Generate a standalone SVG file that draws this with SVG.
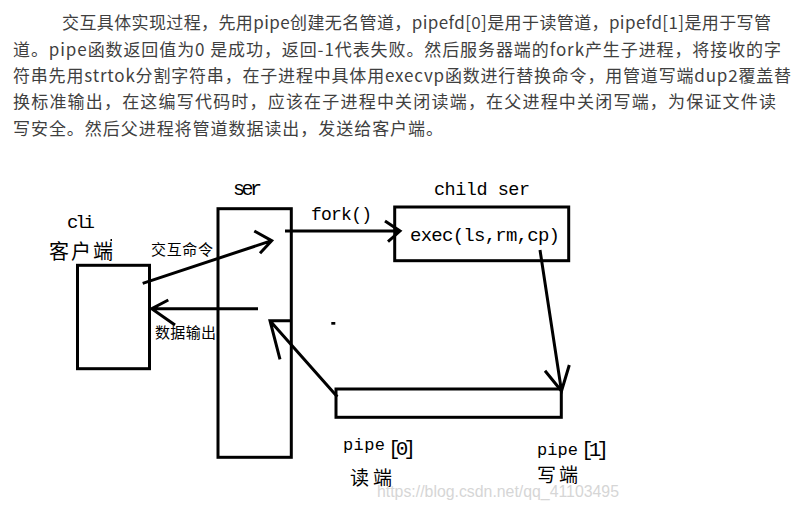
<svg xmlns="http://www.w3.org/2000/svg" width="804" height="526" viewBox="0 0 804 526">
<style>
.para{font-family:"Noto Sans CJK SC","Liberation Sans",sans-serif;font-size:17px;fill:#3f3f3f}
.box{fill:none;stroke:#000;stroke-width:3}
.conn{fill:none;stroke:#000;stroke-width:3;stroke-linejoin:miter}
.mono{font-family:"Liberation Mono","DejaVu Sans Mono",monospace;fill:#000}
.cjk{font-family:"Noto Sans CJK SC",sans-serif;fill:#000}
.wm{font-family:"Liberation Sans",Arial,sans-serif;font-size:16px;fill:#d6d6d6}
</style>
<rect x="0" y="0" width="804" height="526" fill="#fff"/>
<g id="paragraph">
<text class="para" x="62" y="29" textLength="709" lengthAdjust="spacing">交互具体实现过程，先用pipe创建无名管道，pipefd[0]是用于读管道，pipefd[1]是用于写管</text>
<text class="para" x="13" y="55.5" textLength="768" lengthAdjust="spacing">道。pipe函数返回值为0 是成功，返回-1代表失败。然后服务器端的fork产生子进程，将接收的字</text>
<text class="para" x="13" y="82" textLength="778" lengthAdjust="spacing">符串先用strtok分割字符串，在子进程中具体用execvp函数进行替换命令，用管道写端dup2覆盖替</text>
<text class="para" x="13" y="108" textLength="763" lengthAdjust="spacing">换标准输出，在这编写代码时，应该在子进程中关闭读端，在父进程中关闭写端，为保证文件读</text>
<text class="para" x="13" y="135" textLength="430" lengthAdjust="spacing">写安全。然后父进程将管道数据读出，发送给客户端。</text>
</g>
<g id="cli">
<rect class="box" x="77.5" y="265.3" width="72" height="103.4"/>
<text class="mono" x="67" y="228" font-size="19" textLength="28" lengthAdjust="spacing">cli</text>
<text class="cjk" x="49" y="259" font-size="20" textLength="64" lengthAdjust="spacing">客户端</text>
<rect x="110.5" y="239" width="1.5" height="2" fill="#000"/>
</g>
<g id="ser">
<rect class="box" x="218" y="208.7" width="73.3" height="248.6"/>
<text class="mono" x="233" y="195" font-size="20" textLength="29" lengthAdjust="spacing">ser</text>
</g>
<g id="child">
<rect class="box" x="394.7" y="207" width="174" height="53.7"/>
<text class="mono" x="434" y="195" font-size="18.5" textLength="96" lengthAdjust="spacing">child ser</text>
<text class="mono" x="410" y="240.7" font-size="19" textLength="150" lengthAdjust="spacing">exec(ls,rm,cp)</text>
</g>
<g id="pipe">
<rect class="box" x="336" y="389" width="225.3" height="28.3"/>
<text class="mono" x="343" y="450" font-size="17" textLength="42" lengthAdjust="spacing">pipe</text>
<text class="mono" x="388" y="455" font-size="21" textLength="28" lengthAdjust="spacing">[0]</text>
<text class="cjk" x="350" y="485" font-size="19" textLength="42" lengthAdjust="spacing">读端</text>
<text class="mono" x="537" y="455" font-size="17" textLength="41" lengthAdjust="spacing">pipe</text>
<text class="mono" x="581" y="456" font-size="21" textLength="28" lengthAdjust="spacing">[1]</text>
<text class="cjk" x="537" y="482" font-size="19" textLength="41" lengthAdjust="spacing">写端</text>
</g>
<g id="connectors">
<path class="conn" d="M142.7,283.3 L271.7,240.7 M254.3,231 L271.7,240.7 L260,253.3"/>
<path class="conn" d="M258,308.7 L151.7,308.7 M168.3,300 L151.7,308.7 L175,325"/>
<path class="conn" d="M285,231 L400,231 M385,221 L400,231 L388,241.7"/>
<path class="conn" d="M540,250 L561.5,391 M545,370.7 L561.5,391 L569.3,365"/>
<path class="conn" d="M337.3,396.7 L270,320.7 M280,359.3 L270,320.7 L291.5,320.7"/>
</g>
<g id="labels">
<text class="cjk" x="151" y="254.5" font-size="15" textLength="62" lengthAdjust="spacing">交互命令</text>
<text class="cjk" x="155" y="338" font-size="15" textLength="61" lengthAdjust="spacing">数据输出</text>
<text class="mono" x="311" y="220" font-size="18" textLength="61" lengthAdjust="spacing">fork()</text>
</g>
<rect x="331.3" y="322" width="4" height="2.7" fill="#000"/>
<text class="wm" x="377" y="497" textLength="242" lengthAdjust="spacingAndGlyphs">https://blog.csdn.net/qq_41103495</text>
</svg>
